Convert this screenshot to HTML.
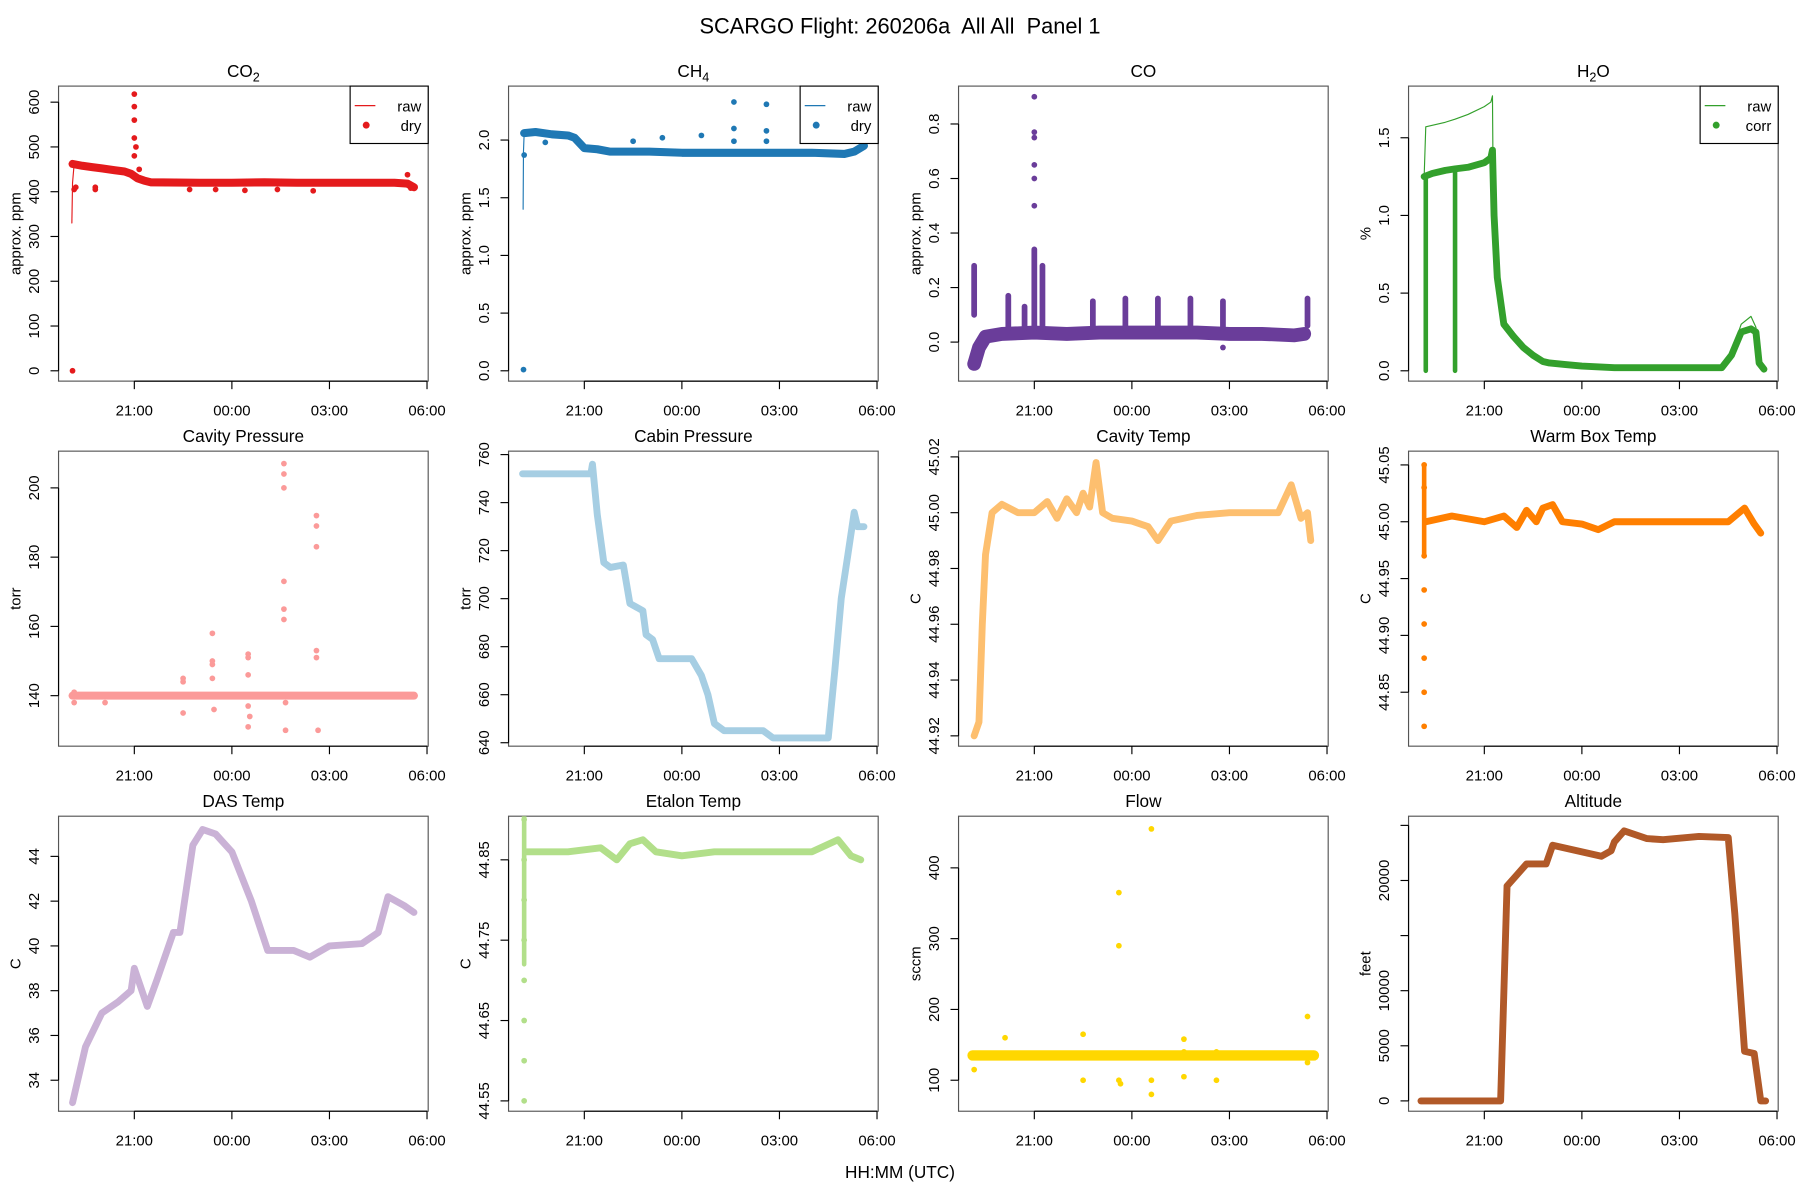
<!DOCTYPE html>
<html><head><meta charset="utf-8"><style>
html,body{margin:0;padding:0;background:#fff}
svg{display:block;font-family:"Liberation Sans",sans-serif}
text{white-space:pre}
</style></head><body>
<svg id="fig" width="1800" height="1200" viewBox="0 0 1568 1045.33" xmlns="http://www.w3.org/2000/svg" xml:space="preserve">
<text x="784" y="29" font-size="19" text-anchor="middle" xml:space="preserve">SCARGO Flight: 260206a  All All  Panel 1</text>
<text x="784" y="1026" font-size="15" text-anchor="middle">HH:MM (UTC)</text>
</svg>
<script>
// ---- data (t = hours relative to 00:00 UTC) ----
const xTickLabels = ["21:00","00:00","03:00","06:00"];
const xTickHours = [-3,0,3,6];

const co2T = [-4.9,-4.6,-4.3,-4,-3.6,-3.3,-3.1,-2.9,-2.7,-2.5,-1,0,1,2,3,4,5,5.4,5.6];
const co2V = [462,458,455,452,448,445,440,430,425,421,420,420,421,420,420,420,420,418,410];
const co2RawT = [-4.92,-4.9,-4.85];
const co2RawV = [330,420,462];
const co2OutT = [-4.9,-4.85,-4.8,-4.2,-4.2,-3.0,-3.0,-3.0,-3.0,-3.0,-2.95,-2.85,-1.3,-0.5,0.4,1.4,2.5,5.4,5.5];
const co2OutV = [0,405,410,405,410,618,590,560,520,480,500,450,405,405,403,405,402,438,408];

const ch4T = [-4.85,-4.5,-4,-3.5,-3.3,-3.0,-2.6,-2.2,-1,0,1,2,3,4,5,5.3,5.6];
const ch4V = [2.06,2.07,2.05,2.04,2.02,1.93,1.92,1.90,1.90,1.89,1.89,1.89,1.89,1.89,1.88,1.90,1.95];
const ch4RawT = [-4.88,-4.87,-4.85];
const ch4RawV = [1.4,1.9,2.06];
const ch4OutT = [-4.87,-4.85,-1.5,-0.6,0.6,1.6,1.6,1.6,2.6,2.6,2.6,-4.2];
const ch4OutV = [0.01,1.87,1.99,2.02,2.04,2.33,2.1,1.99,2.31,2.08,1.99,1.98];

const coT = [-4.85,-4.7,-4.5,-4,-3,-2,-1,0,1,2,3,4,5,5.3];
const coV = [-0.08,-0.02,0.02,0.03,0.035,0.03,0.035,0.035,0.035,0.035,0.03,0.03,0.025,0.03];
const coSpikeT = [-4.85,-3.8,-3.3,-3.0,-2.75,-1.2,-0.2,0.8,1.8,2.8,5.4];
const coSpikeLo = [0.1,0.05,0.05,0.05,0.05,0.05,0.05,0.05,0.05,0.05,0.06];
const coSpikeHi = [0.28,0.17,0.13,0.34,0.28,0.15,0.16,0.16,0.16,0.15,0.16];
const coOutT = [-3.0,-3.0,-3.0,-3.0,-3.0,-3.0,2.8];
const coOutV = [0.9,0.77,0.75,0.65,0.6,0.5,-0.02];

const h2oT = [-4.85,-4.6,-4.2,-3.9,-3.5,-3.0,-2.8,-2.75,-2.7,-2.6,-2.4,-2.1,-1.8,-1.5,-1.2,-1.0,-0.5,0,1,2,3,4.3,4.6,4.9,5.2,5.35,5.45,5.6];
const h2oV = [1.25,1.27,1.29,1.3,1.31,1.34,1.37,1.42,1.0,0.6,0.3,0.22,0.15,0.1,0.06,0.05,0.04,0.03,0.02,0.02,0.02,0.02,0.1,0.25,0.27,0.25,0.05,0.01];
const h2oRawT = [-4.85,-4.8,-4.2,-3.9,-3.5,-3.0,-2.8,-2.75,-2.72,-2.6,-2.4,-2.1,-1.8,-1.5,-1.2,-1.0,-0.5,0,1,2,3,4.3,4.6,4.9,5.2,5.35,5.45,5.6];
const h2oRawV = [1.25,1.57,1.6,1.62,1.65,1.7,1.73,1.77,1.0,0.62,0.33,0.25,0.17,0.11,0.07,0.05,0.04,0.03,0.02,0.02,0.02,0.02,0.12,0.3,0.35,0.28,0.05,0.01];
const h2oDipT = [-4.8,-3.9];
const h2oDipV = [1.25,1.3];

const cavPT = [-4.9,5.6];
const cavPV = [140,140];
const cavPOutT = [-4.85,-4.85,-3.9,-1.5,-1.5,-1.5,-0.6,-0.6,-0.6,-0.6,-0.55,0.5,0.5,0.5,0.5,0.5,0.55,1.6,1.6,1.6,1.6,1.6,1.6,1.65,1.65,2.6,2.6,2.6,2.6,2.6,2.65];
const cavPOutV = [138,141,138,145,144,135,158,150,149,145,136,152,151,146,137,131,134,207,204,200,173,165,162,138,130,192,189,183,153,151,130];

const cabT = [-4.9,-2.8,-2.75,-2.6,-2.4,-2.2,-1.8,-1.6,-1.2,-1.1,-0.9,-0.7,0.3,0.6,0.8,1.0,1.3,2.5,2.8,4.5,4.7,4.9,5.1,5.3,5.4,5.6];
const cabV = [752,752,756,735,715,713,714,698,695,685,683,675,675,668,660,648,645,645,642,642,670,700,718,736,730,730];

const cavTT = [-4.85,-4.7,-4.6,-4.5,-4.3,-4,-3.5,-3.0,-2.6,-2.3,-2,-1.7,-1.5,-1.3,-1.1,-0.9,-0.6,0,0.5,0.8,1.2,2,3,4.5,4.9,5.2,5.4,5.5];
const cavTV = [44.92,44.925,44.96,44.985,45.0,45.003,45.0,45.0,45.004,44.998,45.005,45.0,45.007,45.002,45.018,45.0,44.998,44.997,44.995,44.99,44.997,44.999,45.0,45.0,45.01,44.998,45.0,44.99];

const wbT = [-4.8,-4,-3,-2.4,-2,-1.7,-1.4,-1.2,-0.9,-0.6,0,0.5,1,2,3,4.5,5.0,5.3,5.5];
const wbV = [45.0,45.005,45.0,45.005,44.995,45.01,45.0,45.012,45.015,45.0,44.998,44.993,45.0,45.0,45.0,45.0,45.012,44.998,44.99];
const wbColT = [-4.85,-4.85,-4.85,-4.85,-4.85,-4.85,-4.85,-4.85];
const wbColV = [44.82,44.85,44.88,44.91,44.94,44.97,45.03,45.05];

const dasT = [-4.9,-4.5,-4,-3.5,-3.1,-3.0,-2.6,-2.3,-1.8,-1.6,-1.2,-0.9,-0.5,0,0.6,1.1,1.9,2.4,3,4,4.5,4.8,5.3,5.6];
const dasV = [33,35.5,37,37.5,38,39,37.3,38.5,40.6,40.6,44.5,45.2,45,44.2,42,39.8,39.8,39.5,40,40.1,40.6,42.2,41.8,41.5];

const etT = [-4.8,-3.5,-2.5,-2.0,-1.6,-1.2,-0.8,0,1,2,3,4,4.8,5.2,5.5];
const etV = [44.86,44.86,44.865,44.85,44.87,44.875,44.86,44.855,44.86,44.86,44.86,44.86,44.875,44.855,44.85];
const etColT = [-4.85,-4.85,-4.85,-4.85,-4.85,-4.85,-4.85,-4.85];
const etColV = [44.55,44.6,44.65,44.7,44.75,44.8,44.85,44.9];

const flowT = [-4.9,5.6];
const flowV = [135,135];
const flowOutT = [-4.85,-3.9,-1.5,-1.5,-0.4,-0.4,-0.4,-0.35,0.6,0.6,0.6,1.6,1.6,1.6,2.6,2.6,5.4,5.4];
const flowOutV = [115,160,165,100,365,290,100,95,455,100,80,158,140,105,140,100,190,125];

const altT = [-4.95,-2.5,-2.3,-2.0,-1.7,-1.1,-0.9,0.6,0.9,1.0,1.3,2.0,2.5,3.6,4.5,4.7,5.0,5.3,5.5,5.65];
const altV = [0,0,19500,20500,21500,21500,23200,22200,22700,23500,24500,23800,23700,24000,23900,17000,4500,4300,0,0];

// ---- layout ----
const svg = document.getElementById('fig');
const NS = 'http://www.w3.org/2000/svg';
const colLeft = [51,443,835,1227], rowTop = [75,393,711], W = 322, H = 257;
function mk(tag, attrs, parent){const e=document.createElementNS(NS,tag);for(const k in attrs)e.setAttribute(k,attrs[k]);(parent||svg).appendChild(e);return e;}

function panel(c, r, name, title, ylab, yTicks, yLabels, y0px, y0v, y1px, y1v){
  const L = colLeft[c], T = rowTop[r];
  const g = mk('g',{});
  
  
  const xs = t => L + 151 + 28.33*t;
  const ys = v => y0px + (v - y0v)*(y1px - y0px)/(y1v - y0v);
  const box = mk('rect',{x:L,y:T,width:W,height:H,fill:'none',stroke:'#555','stroke-width':1},g);
  
  
  const tt = mk('text',{x:L+W/2,y:T-8,'font-size':15,'text-anchor':'middle'},g);
  
  
  tt.textContent = title;
  const B = T+H;
  const xa = mk('g',{},g);
  
  
  mk('line',{x1:xs(xTickHours[0]),x2:xs(xTickHours[xTickHours.length-1]),y1:B,y2:B,stroke:'#000'},xa);
  xTickHours.forEach((h,i)=>{
    mk('line',{x1:xs(h),x2:xs(h),y1:B,y2:B+7,stroke:'#000'},xa);
    const tl=mk('text',{x:xs(h),y:B+30,'font-size':13,'text-anchor':'middle'},xa);
    
    
    tl.textContent=xTickLabels[i];
  });
  const ya = mk('g',{},g);
  
  
  mk('line',{x1:L,x2:L,y1:ys(yTicks[0]),y2:ys(yTicks[yTicks.length-1]),stroke:'#000'},ya);
  yTicks.forEach((v,i)=>{
    const y=ys(v);
    mk('line',{x1:L-7,x2:L,y1:y,y2:y,stroke:'#000'},ya);
    if(yLabels[i]!==''){
      const tl=mk('text',{x:L-17,y:y,'font-size':13,'text-anchor':'middle',transform:`rotate(-90 ${L-17} ${y})`},ya);
      
      
      tl.textContent=yLabels[i];
    }
  });
  const yl=mk('text',{x:L-33,y:T+H/2,'font-size':13,'text-anchor':'middle',transform:`rotate(-90 ${L-33} ${T+H/2})`},ya);
  
  
  yl.textContent=ylab;
  const cp = 'cp'+name;
  const clip = mk('clipPath',{id:cp},g); mk('rect',{x:L,y:T,width:W,height:H},clip);
  const plot = mk('g',{'clip-path':`url(#${cp})`},g);
  return {L,T,xs,ys,plot,g,tt};
}
function line(p, T, V, color, w, name){
  const pts = T.map((t,i)=>p.xs(t).toFixed(1)+','+p.ys(V[i]).toFixed(1)).join(' ');
  const e = mk('polyline',{points:pts,fill:'none',stroke:color,'stroke-width':w,'stroke-linejoin':'round','stroke-linecap':'round'},p.plot);
  
  
}
function dots(p, T, V, color, rad, name){
  T.forEach((t,i)=>{
    const e = mk('circle',{cx:p.xs(t),cy:p.ys(V[i]),r:rad,fill:color},p.plot);
    
    
  });
}
function spikes(p, T, lo, hi, color, w, name){
  T.forEach((t,i)=>{
    const e = mk('line',{x1:p.xs(t),x2:p.xs(t),y1:p.ys(lo[i]),y2:p.ys(hi[i]),stroke:color,'stroke-width':w,'stroke-linecap':'round'},p.plot);
    
    
  });
}
function legend(p, items, color){
  const L=p.L+W-68, T=p.T;
  const g = mk('g',{},p.g);
  
  
  mk('rect',{x:L,y:T,width:68,height:50,fill:'#fff',stroke:'#000'},g);
  mk('line',{x1:L+4,x2:L+22,y1:T+17,y2:T+17,stroke:color,'stroke-width':1},g);
  mk('circle',{cx:L+14,cy:T+34,r:3,fill:color},g);
  items.forEach((s,i)=>{
    const t=mk('text',{x:L+62,y:T+22+i*17,'font-size':13,'text-anchor':'end'},g);
    
    
    t.textContent=s;
  });
}
function titleSub(p, a, s, b){
  const tt = p.tt;
  tt.textContent=a;
  const ts=mk('tspan',{'font-size':11,dy:4},tt); ts.textContent=s;
  const t2=mk('tspan',{dy:-4},tt); t2.textContent=b;
}

let p = panel(0,0,'co2','CO','approx. ppm',[0,100,200,300,400,500,600],['0','100','200','300','400','500','600'],323,0,89,600);
titleSub(p,'CO','2','');
line(p,co2RawT,co2RawV,'#e41a1c',1,'co2-raw-line');
line(p,co2T,co2V,'#e41a1c',7,'co2-dry-series');
dots(p,co2OutT,co2OutV,'#e41a1c',2.5,'co2-dry-point');
legend(p,['raw','dry'],'#e41a1c');

p = panel(1,0,'ch4','CH','approx. ppm',[0,0.5,1,1.5,2],['0.0','0.5','1.0','1.5','2.0'],323,0,122,2);
titleSub(p,'CH','4','');
line(p,ch4RawT,ch4RawV,'#1f78b4',1,'ch4-raw-line');
line(p,ch4T,ch4V,'#1f78b4',7,'ch4-dry-series');
dots(p,ch4OutT,ch4OutV,'#1f78b4',2.5,'ch4-dry-point');
legend(p,['raw','dry'],'#1f78b4');

p = panel(2,0,'co','CO','approx. ppm',[0,0.2,0.4,0.6,0.8],['0.0','0.2','0.4','0.6','0.8'],298,0,108,0.8);
line(p,coT,coV,'#6a3d9a',12,'co-series');
spikes(p,coSpikeT,coSpikeLo,coSpikeHi,'#6a3d9a',5,'co-spike');
dots(p,coOutT,coOutV,'#6a3d9a',2.5,'co-point');

p = panel(3,0,'h2o','H','%',[0,0.5,1,1.5],['0.0','0.5','1.0','1.5'],323,0,120,1.5);
titleSub(p,'H','2','O');
line(p,h2oRawT,h2oRawV,'#33a02c',1,'h2o-raw-line');
line(p,h2oT,h2oV,'#33a02c',6,'h2o-corr-series');
spikes(p,h2oDipT,[0,0],h2oDipV,'#33a02c',4,'h2o-dip');
legend(p,['raw','corr'],'#33a02c');

p = panel(0,1,'cavity-pressure','Cavity Pressure','torr',[140,160,180,200],['140','160','180','200'],606,140,425,200);
line(p,cavPT,cavPV,'#fb9a99',7,'cavity-pressure-series');
dots(p,cavPOutT,cavPOutV,'#fb9a99',2.5,'cavity-pressure-point');

p = panel(1,1,'cabin-pressure','Cabin Pressure','torr',[640,660,680,700,720,740,760],['640','660','680','700','720','740','760'],647,640,396,760);
line(p,cabT,cabV,'#a6cee3',6,'cabin-pressure-series');

p = panel(2,1,'cavity-temp','Cavity Temp','C',[44.92,44.94,44.96,44.98,45.0,45.02],['44.92','44.94','44.96','44.98','45.00','45.02'],641,44.92,398,45.02);
line(p,cavTT,cavTV,'#fdbf6f',6,'cavity-temp-series');

p = panel(3,1,'warm-box-temp','Warm Box Temp','C',[44.85,44.9,44.95,45.0,45.05],['44.85','44.90','44.95','45.00','45.05'],603,44.85,405,45.05);
line(p,wbT,wbV,'#ff7f00',6,'warm-box-temp-series');
dots(p,wbColT,wbColV,'#ff7f00',2.5,'warm-box-temp-point');
spikes(p,[-4.85],[44.97],[45.05],'#ff7f00',4,'warm-box-temp-spike');

p = panel(0,2,'das-temp','DAS Temp','C',[34,36,38,40,42,44],['34','36','38','40','42','44'],941,34,746,44);
line(p,dasT,dasV,'#cab2d6',6,'das-temp-series');

p = panel(1,2,'etalon-temp','Etalon Temp','C',[44.55,44.65,44.75,44.85],['44.55','44.65','44.75','44.85'],959,44.55,749,44.85);
line(p,etT,etV,'#b2df8a',6,'etalon-temp-series');
dots(p,etColT,etColV,'#b2df8a',2.5,'etalon-temp-point');
spikes(p,[-4.85],[44.72],[44.91],'#b2df8a',4,'etalon-temp-spike');

p = panel(2,2,'flow','Flow','sccm',[100,200,300,400],['100','200','300','400'],941,100,756,400);
line(p,flowT,flowV,'#ffd700',9,'flow-series');
dots(p,flowOutT,flowOutV,'#ffd700',2.5,'flow-point');

p = panel(3,2,'altitude','Altitude','feet',[0,5000,10000,15000,20000,25000],['0','5000','10000','','20000',''],959,0,767,20000);
line(p,altT,altV,'#b15928',6,'altitude-series');
</script>
</body></html>
